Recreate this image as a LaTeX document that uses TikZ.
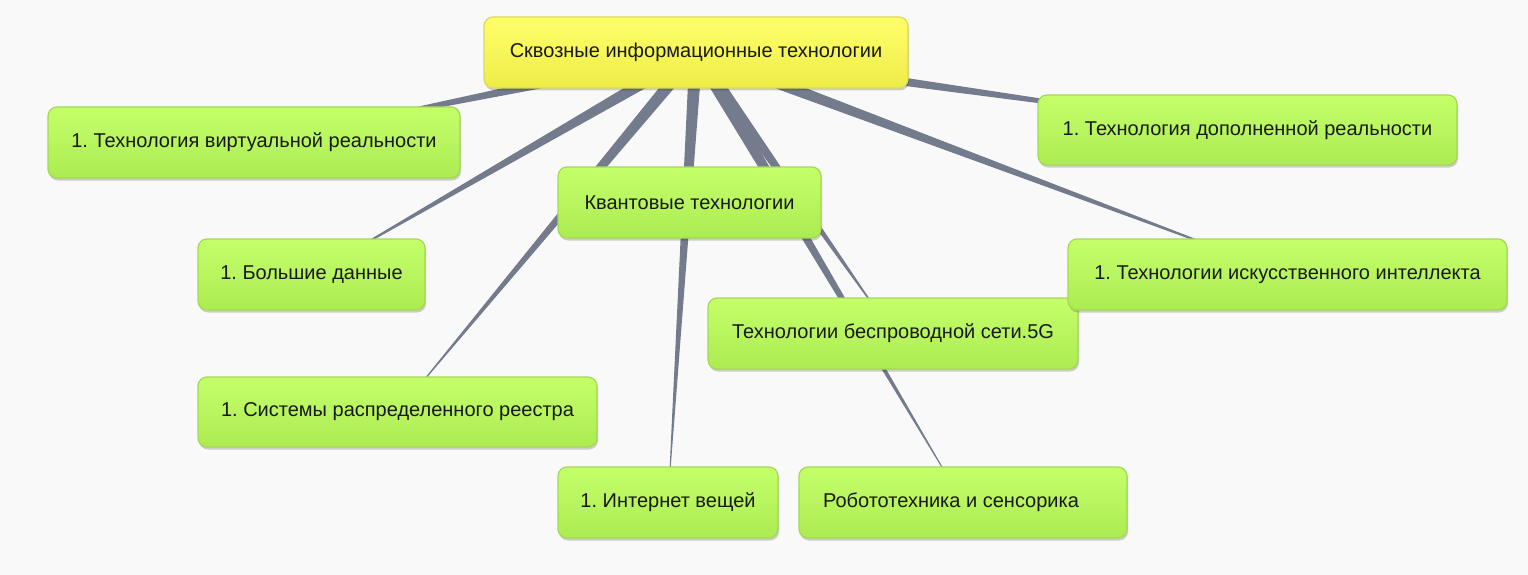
\documentclass[tikz,border=0pt]{standalone}
\usepackage{fontspec}
\setmainfont{Liberation Sans}
\frenchspacing
\usetikzlibrary{calc,shadows,backgrounds}
\definecolor{paper}{HTML}{F9F9F9}
\definecolor{branch}{HTML}{737B8C}
\definecolor{leaftop}{HTML}{C4FF6A}
\definecolor{leafbot}{HTML}{ACEB52}
\definecolor{leafline}{HTML}{A4D955}
\definecolor{roottop}{HTML}{FFFF6A}
\definecolor{rootbot}{HTML}{EEEC48}
\definecolor{rootline}{HTML}{DCDA5A}
\tikzset{
  box/.style={rounded corners=9pt, line width=1.2pt, minimum height=71pt, inner sep=0pt,
    font=\fontsize{20}{24}\selectfont, text=black!90,
    drop shadow={shadow xshift=1pt, shadow yshift=-2.5pt, opacity=0.18, fill=black}},
  leaf/.style={box, draw=leafline, top color=leaftop, bottom color=leafbot},
  hub/.style={box, draw=rootline, top color=roottop, bottom color=rootbot},
  wedge/.style={fill=branch}
}
\begin{document}
\begin{tikzpicture}[x=1pt,y=-1pt]
\useasboundingbox (0,0) rectangle (1528,575);
\node[hub, minimum width=424pt] (root) at (696,52.5) {Сквозные информационные технологии};
\node[leaf, minimum width=412pt] (vr) at (254,142.5) {1. Технология виртуальной реальности};
\node[leaf, minimum width=227pt] (big) at (311.5,274.5) {1. Большие данные};
\node[leaf, minimum width=399pt, minimum height=70pt] (reg) at (397.5,412) {1. Системы распределенного реестра};
\node[leaf, minimum width=220pt] (iot) at (668,502.5) {1. Интернет вещей};
\node[leaf, minimum width=263pt] (quant) at (689.5,202.5) {Квантовые технологии};
\node[leaf, minimum width=370pt] (fiveg) at (893,333.5) {Технологии беспроводной сети.5G};
\node[leaf, minimum width=328pt] (robo) at (963,502.5) {Робототехника и сенсорика\rule{24pt}{0pt}};
\node[leaf, minimum width=419pt, minimum height=70pt] (ar) at (1247.5,130) {1. Технология дополненной реальности};
\node[leaf, minimum width=439pt] (ai) at (1287.5,274.5) {1. Технологии искусственного интеллекта};
\begin{pgfonlayer}{background}
\fill[paper] (0,0) rectangle (1528,575);
\foreach \c in {vr,big,reg,iot,fiveg,robo,ar,ai,quant}
  \fill[wedge] ($(root.center)!6.5pt!90:(\c.center)$) -- (\c.center) -- ($(root.center)!6.5pt!-90:(\c.center)$) -- cycle;
\end{pgfonlayer}
\end{tikzpicture}
\end{document}
